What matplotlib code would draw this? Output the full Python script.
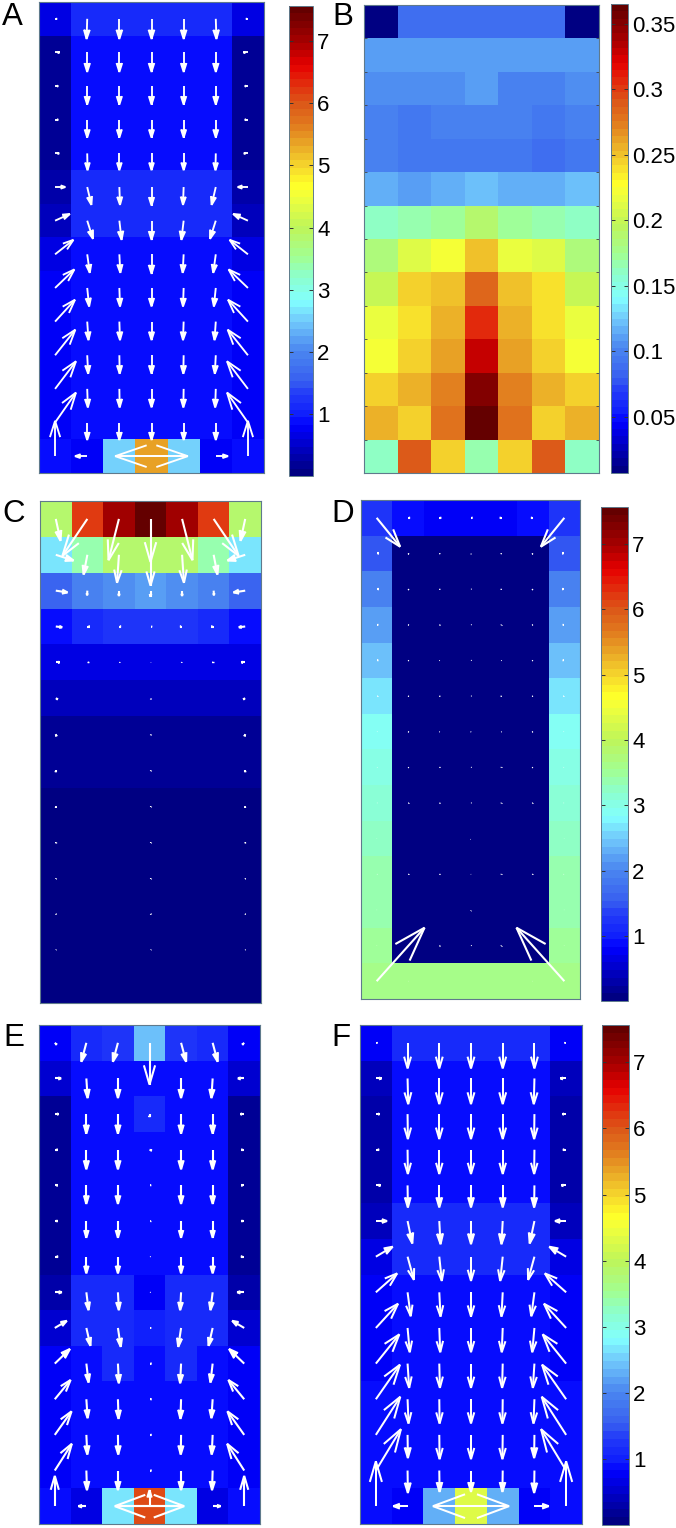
import numpy as np
import matplotlib
matplotlib.use("Agg")
import matplotlib.pyplot as plt
from matplotlib.collections import LineCollection, PolyCollection
from matplotlib.colors import Normalize, LinearSegmentedColormap
from matplotlib.cm import ScalarMappable

plt.rcParams['font.family'] = ['Liberation Sans', 'DejaVu Sans']
W, H = 676, 1528

# Heat values: rows top to bottom. "half" arrays hold the left 4 columns, the right 3 mirror them.
a_heat = [[.65,1.08,1.08,1.08],[.2,.95,.95,.95],[.15,.95,.95,.95],[.15,.95,.95,.95],[.17,.95,.95,.95],
          [.25,1.08,1.08,1.08],[.42,1.08,1.08,1.08],[.62,.92,.92,.92],[.75,.92,.92,.92],[.75,.92,.92,.92],
          [.78,.92,.92,.92],[.78,.92,.92,.92],[.78,.92,.92,.92],[.95,.75,2.6,5.35]]
b_heat = [[.007,.09,.09,.09,.09,.09,.007],
          [.112,.112,.112,.11,.113,.113,.11],
          [.103,.103,.103,.108,.102,.102,.103],
          [.1,.094,.1,.099,.1,.092,.097],
          [.097,.093,.092,.095,.092,.09,.096],
          [.118,.113,.115,.122,.114,.115,.124],
          [.162,.168,.172,.19,.172,.165,.16],
          [.185,.212,.22,.248,.218,.212,.185],
          [.2,.245,.25,.285,.248,.24,.2],
          [.215,.24,.255,.305,.255,.24,.215],
          [.225,.245,.26,.33,.26,.245,.225],
          [.243,.255,.275,.35,.275,.255,.243],
          [.255,.247,.28,.362,.28,.247,.255],
          [.16,.29,.245,.165,.245,.29,.16]]
c_heat = [[3.9,6.25,7.0,7.45],[2.7,3.4,3.9,3.9],[1.55,1.95,2.05,2.2],[.95,1.15,1.25,1.25],
          [.66,.66,.66,.66],[.42,.42,.42,.42],[.2,.2,.2,.2],[.2,.2,.2,.2],[.03,.03,.03,.03],[.03,.03,.03,.03],
          [.03,.03,.03,.03],[.03,.03,.03,.03],[.03,.03,.03,.03],[.03,.03,.03,.03]]
d_heat = [[1.3,.85,.78,.78],[1.5,.03,.03,.03],[1.9,.03,.03,.03],[2.2,.03,.03,.03],[2.45,.03,.03,.03],
          [2.7,.03,.03,.03],[2.85,.03,.03,.03],[3.05,.03,.03,.03],[3.15,.03,.03,.03],[3.25,.03,.03,.03],
          [3.35,.03,.03,.03],[3.4,.03,.03,.03],[3.45,.03,.03,.03],[3.55,3.55,3.6,3.6]]
e_heat = [[.8,1.08,1.2,2.4],[.5,.95,.95,.92],[.2,.95,.95,1.08],[.2,.95,.95,.92],[.2,.95,.95,.92],
          [.2,.95,.95,.92],[.22,.95,.95,.92],[.28,1.08,1.08,.78],[.55,1.08,1.08,1.0],[.75,.92,1.08,.92],
          [.8,.92,.92,.92],[.8,.92,.92,.92],[.8,.92,.92,.92],[.95,.7,2.7,6.1]]
f_heat = [[.75,1.08,1.08,1.08],[.4,.95,.95,.95],[.3,.95,.95,.95],[.3,.95,.95,.95],[.35,.95,.95,.95],
          [.45,1.08,1.08,1.08],[.6,1.08,1.08,1.08],[.75,.92,.92,.92],[.8,.92,.92,.92],[.8,.92,.92,.92],
          [.85,.92,.92,.92],[.85,.92,.92,.92],[.85,.92,.92,.92],[.95,.8,2.3,4.3]]

# Arrow components in cell units (+u right, +v down), left 4 columns.
a_u = [[.06,-.02,0,0],[.14,0,0,0],[.1,0,0,0],[.1,0,0,0],[.13,.01,0,0],[.32,.13,.02,0],[.46,.18,.07,0],
       [.57,.08,.03,0],[.6,.06,.02,0],[.62,.04,.02,0],[.63,.03,.01,0],[.65,.02,.01,0],[.65,0,0,0],[0,-.38,2.13,.01]]
a_v = [[0,.6,.6,.6],[0,.58,.58,.58],[0,.55,.55,.55],[0,.53,.53,.53],[0,.5,.5,.5],[0,.53,.53,.55],[-.2,.54,.57,.57],
       [-.43,.55,.55,.58],[-.55,.55,.55,.55],[-.65,.55,.55,.55],[-.76,.55,.55,.55],[-.82,.55,.55,.55],[-.89,.52,.52,.52],[-1.05,0,0,0]]
c_u = [[.15,-.79,-.33,0],[.56,-.12,-.06,0],[.37,-.01,0,0],[.2,.07,.06,.05],[.12,.04,.03,.02],[.06,0,0,0],[.02,0,0,0],
       [0,0,0,0],[0,0,0,0],[0,0,0,0],[0,0,0,0],[0,0,0,0],[0,0,0,0],[0,0,0,0]]
c_v = [[.61,1.03,1.15,1.2],[.16,.55,.78,.86],[.05,.13,.15,.17],[.02,0,0,0],[0,0,0,0],[.03,0,0,.03],[.06,0,0,.03],
       [.06,0,0,.03],[.05,0,0,.03],[.04,0,0,.03],[.03,0,0,.03],[.03,0,0,.03],[.02,0,0,.02],[0,0,0,0]]
d_u = [[.75,.06,.06,.06],[.06,.03,.03,0],[.06,.03,.03,.03],[.05,.03,.03,.03],[.05,.03,.02,.03],[.03,.03,.03,.03],
       [.02,.03,.02,.02],[.02,.03,.03,.03],[.02,.03,.03,.03],[.01,0,0,0],[.02,.03,.03,.02],[.01,0,0,0],
       [.01,0,.03,.03],[1.53,.01,0,0]]
d_v = [[.81,0,0,0],[0,.02,.01,.02],[0,.02,.01,0],[0,.01,0,0],[0,.01,.01,0],[0,.01,.01,0],[0,.01,.01,.01],[0,.01,0,0],
       [0,0,0,0],[0,0,0,.02],[0,0,0,0],[0,0,0,.02],[0,0,0,0],[-1.5,0,0,0]]
e_u = [[.06,-.16,-.16,0],[.2,.04,0,0],[.12,0,0,.0],[.09,0,0,.07],[.09,0,0,.05],[.09,0,0,.04],[.1,0,0,.03],[.22,.07,.03,.03],
       [.38,.13,.09,.05],[.48,.07,.03,.06],[.5,.04,.02,.06],[.53,.03,.01,.06],[.54,.02,0,.06],[0,-.25,2.1,0]]
e_v = [[.05,.53,.53,1.17],[0,.55,.55,0],[0,.55,.55,.08],[0,.55,.55,.02],[0,.52,.52,0],[0,.47,.47,0],[0,.47,.47,0],
       [0,.5,.5,0],[-.2,.5,.53,0],[-.41,.53,.55,0],[-.54,.53,.55,0],[-.66,.55,.55,0],[-.75,.55,.55,0],[-.85,0,0,-.45]]
f_u = [[.05,0,0,0],[.18,.02,0,0],[.12,.01,0,0],[.1,.01,0,0],[.15,.01,0,0],[.35,.15,.04,0],[.53,.2,.08,0],
       [.67,.1,.04,0],[.7,.07,.03,0],[.74,.05,.02,0],[.76,.03,.01,0],[.77,.01,.01,0],[.79,.01,.01,0],[0,-.45,2.2,0]]
f_v = [[0,.72,.72,.72],[0,.72,.72,.72],[0,.7,.7,.7],[0,.68,.68,.68],[0,.62,.62,.62],[0,.63,.65,.65],[-.28,.65,.68,.68],
       [-.53,.67,.68,.68],[-.68,.68,.68,.68],[-.82,.68,.68,.68],[-.97,.68,.68,.68],[-1.07,.65,.68,.68],[-1.16,.63,.6,.6],[-1.26,0,0,0]]

scale_main = (0.01, 7.56)
scale_b = (0.007, 0.365)
ticks_main = [1, 2, 3, 4, 5, 6, 7]
ticks_b = [0.05, 0.1, 0.15, 0.2, 0.25, 0.3, 0.35]
tick_labels_b = ['0.05', '0.1', '0.15', '0.2', '0.25', '0.3', '0.35']

# Colour bar: value on the 0-7.56 bar, then RGB.
bar_values = [0.01, .78, .95, 1.3, 1.5, 2.0, 2.5, 2.8, 3.2, 3.5, 4.0, 4.5, 4.7, 5.0, 5.3, 5.7, 6.0, 6.3, 6.65, 7.0, 7.56]
bar_rgb = [(0, 0, 130), (0, 0, 255), (15, 30, 252), (35, 60, 248), (55, 95, 240), (75, 135, 240), (115, 205, 252),
           (130, 255, 255), (140, 255, 205), (160, 255, 150), (190, 245, 90), (240, 255, 60), (255, 255, 40),
           (245, 215, 45), (235, 175, 40), (225, 120, 30), (220, 90, 25), (225, 50, 15), (230, 0, 0), (170, 0, 0), (100, 0, 0)]
nodes = [((v - bar_values[0]) / (bar_values[-1] - bar_values[0]), tuple(c / 255 for c in rgb))
         for v, rgb in zip(bar_values, bar_rgb)]
cmap = LinearSegmentedColormap.from_list('bar', nodes, N=64)

EDGE = '#5f7a8c'
fig = plt.figure(figsize=(W / 100, H / 100), dpi=100)


def box(x0, y0, x1, y1):
    return [x0 / W, 1 - y1 / H, (x1 - x0) / W, (y1 - y0) / H]


def mirror(half, sign=1):
    h = np.asarray(half, float)
    return np.hstack([h, sign * h[:, 2::-1]])


def arrows(ax, u, v, lw, alpha=0.46, beta=0.33, fill_below=0.66):
    u, v = np.asarray(u, float), np.asarray(v, float)
    segs, widths, heads = [], [], []
    for r in range(u.shape[0]):
        for c in range(u.shape[1]):
            du, dv = u[r, c], v[r, c]
            length = np.hypot(du, dv)
            if length == 0:
                continue
            x, y = c + .5, r + .5
            tx, ty = x + du, y + dv
            w = lw * min(1.0, max(.3, length / .06))
            b1 = (tx - alpha * (du + beta * dv), ty - alpha * (dv - beta * du))
            b2 = (tx - alpha * (du - beta * dv), ty - alpha * (dv + beta * du))
            segs.append([(x, y), (tx, ty)])
            segs.append([b1, (tx, ty), b2])
            widths += [w, w]
            if length < fill_below:
                heads.append([b1, (tx, ty), b2])
    ax.add_collection(LineCollection(segs, colors='white', linewidths=widths, capstyle='butt',
                                     joinstyle='miter', zorder=3))
    if heads:
        ax.add_collection(PolyCollection(heads, facecolors='white', edgecolors='none', zorder=3))


def panel(rect, heat, scale, u=None, v=None, lw=1.35):
    ax = fig.add_axes(box(*rect))
    ax.pcolormesh(np.arange(8), np.arange(15), np.asarray(heat, float), cmap=cmap,
                  norm=Normalize(*scale), edgecolors='none', rasterized=True)
    ax.set_xlim(0, 7)
    ax.set_ylim(14, 0)
    ax.set_xticks([])
    ax.set_yticks([])
    for s in ax.spines.values():
        s.set_color(EDGE)
        s.set_linewidth(0.8)
    if u is not None:
        arrows(ax, u, v, lw)
    return ax


def colorbar(rect, scale, ticks, labels=None):
    cax = fig.add_axes(box(*rect))
    sm = ScalarMappable(norm=Normalize(*scale), cmap=cmap)
    cb = fig.colorbar(sm, cax=cax)
    cb.set_ticks(ticks)
    if labels is not None:
        cb.set_ticklabels(labels)
    cax.minorticks_off()
    cax.tick_params(axis='y', which='major', direction='in', left=True, right=True, length=3,
                    width=0.7, color='#333333', labelsize=16, pad=3, labelcolor='black')
    cb.outline.set_edgecolor(EDGE)
    cb.outline.set_linewidth(0.7)
    return cax


panel((39, 2, 264, 473), mirror(a_heat), scale_main, mirror(a_u, -1), mirror(a_v))
axb = panel((364, 5, 599, 473), b_heat, scale_b)
axb.set_yticks(np.arange(1, 14))
axb.set_yticklabels([])
axb.tick_params(axis='y', direction='in', left=True, right=True, length=2, width=.6, color='#444444')
panel((40, 501, 261, 1003), mirror(c_heat), scale_main, mirror(c_u, -1), mirror(c_v), lw=1.5)
panel((361, 500, 580, 999), mirror(d_heat), scale_main, mirror(d_u, -1), mirror(d_v), lw=1.5)
panel((39, 1025, 260, 1524), mirror(e_heat), scale_main, mirror(e_u, -1), mirror(e_v), lw=1.5)
panel((360, 1025, 582, 1524), mirror(f_heat), scale_main, mirror(f_u, -1), mirror(f_v), lw=1.45)

colorbar((289, 6, 313, 476), scale_main, ticks_main)
colorbar((611, 4, 628, 473), scale_b, ticks_b, tick_labels_b)
colorbar((601, 507, 628, 1001), scale_main, ticks_main)
colorbar((602, 1025, 629, 1525), scale_main, ticks_main)

letters = ['A', 'B', 'C', 'D', 'E', 'F']
letter_xy = [(2, 25), (332, 25), (2, 522), (331, 522), (3, 1046), (331, 1046)]
for t, (x, y) in zip(letters, letter_xy):
    fig.text(x / W, 1 - y / H, t, fontsize=22.5, color='black', ha='left', va='baseline')

fig.savefig('out.png', dpi=100, facecolor='white')
